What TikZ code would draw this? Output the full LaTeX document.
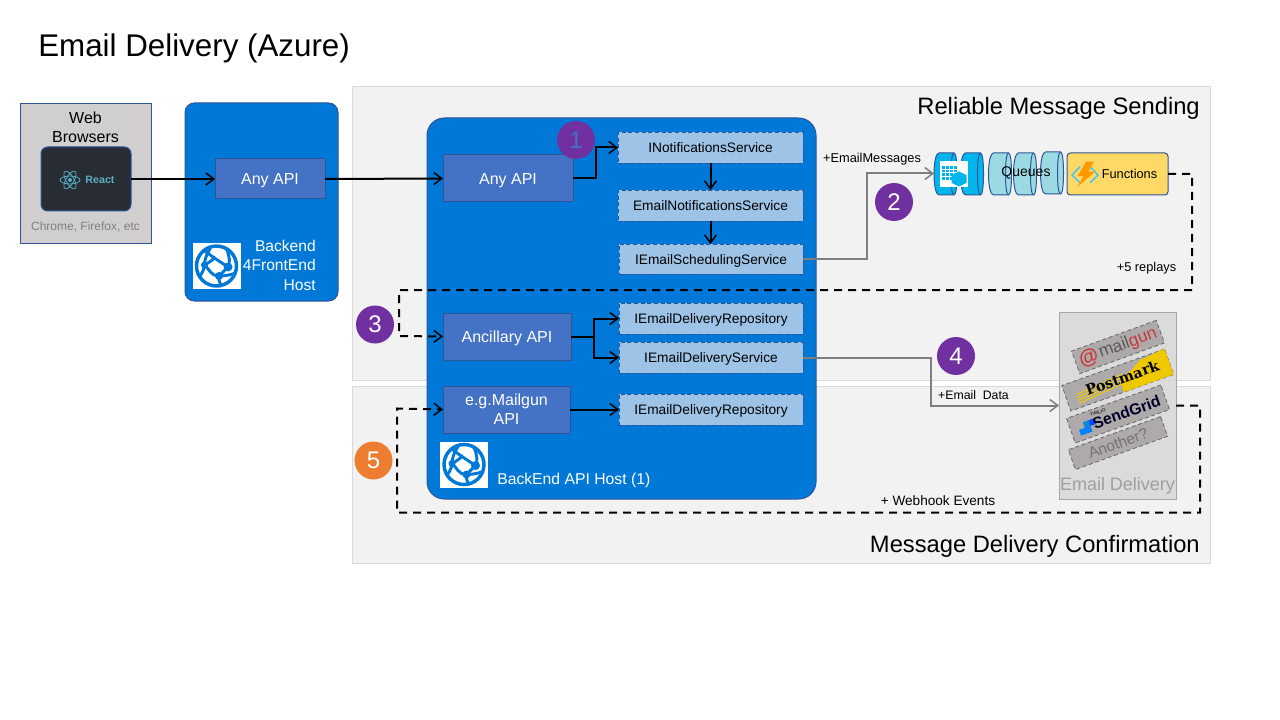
\documentclass[tikz,border=0pt]{standalone}
\usepackage{fontspec}
\setmainfont{Liberation Sans}
\newfontfamily\slabfont{DejaVu Serif}
\usetikzlibrary{arrows.meta}
\definecolor{panelfill}{HTML}{F2F2F2}
\definecolor{panelline}{HTML}{D9D9D9}
\definecolor{hostblue}{HTML}{0078D7}
\definecolor{hostline}{HTML}{2F5597}
\definecolor{apiblue}{HTML}{4472C4}
\definecolor{svcblue}{HTML}{9DC3E6}
\definecolor{purplec}{HTML}{7030A0}
\definecolor{orangec}{HTML}{ED7D31}
\definecolor{qteal}{HTML}{9BDAE3}
\definecolor{qblue}{HTML}{00B4EC}
\definecolor{fnyellow}{HTML}{FFD966}
\definecolor{browsergrey}{HTML}{D0CECE}
\definecolor{reactdark}{HTML}{282C34}
\definecolor{reactteal}{HTML}{5AB0C2}
\definecolor{vendorgrey}{HTML}{AEAAAA}
\definecolor{connectgrey}{HTML}{7F7F7F}
\definecolor{pmyellow}{HTML}{EFC900}
\definecolor{mgred}{HTML}{C9383C}
\tikzset{
 wh/.style 2 args={minimum width=#1*0.75pt,minimum height=#2*0.75pt,inner sep=0pt,outer sep=0pt},
 panel/.style={draw=panelline,fill=panelfill,line width=0.75pt},
 panelhead/.style={anchor=east,inner sep=0pt,font=\fontsize{17.8}{22}\selectfont},
 hostbox/.style={draw=hostline,fill=hostblue,line width=0.75pt},
 apibox/.style={draw=hostline,fill=apiblue,line width=0.75pt,text=white,align=center,font=\fontsize{12}{14.2}\selectfont},
 oneline/.style={text height=8.6pt,text depth=0pt},
 svcbox/.style={draw=hostline,densely dashed,fill=svcblue,line width=0.5pt,font=\fontsize{10.3}{12}\selectfont,text=black,text height=8pt,text depth=0.5pt},
 badge/.style={circle,fill=purplec,minimum size=28.5pt,inner sep=0pt,text=white,font=\fontsize{18}{20}\selectfont},
 edgelabel/.style={anchor=center,inner sep=0pt,font=\fontsize{9.6}{11}\selectfont},
 flow/.style={draw=black,line width=1.5pt,-{Straight Barb[length=6pt,width=9pt,line width=1.1pt]}},
 grayflow/.style={draw=connectgrey,line width=1.5pt,-{Straight Barb[length=6pt,width=9pt,line width=1.1pt]}},
 dashflow/.style={draw=black,line width=1.5pt,dash pattern=on 6pt off 4.5pt,-{Straight Barb[length=6pt,width=9pt,line width=1.1pt]}},
 vendor/.style={draw=black!60,densely dashed,fill=vendorgrey,line width=0.6pt},
 pics/qcyl/.style={code={
   \draw[draw=hostline,fill=#1,line width=0.75pt] (5,0) -- (20,0) .. controls (22,0) and (23,9) .. (23,21) .. controls (23,33) and (22,42) .. (20,42) -- (5,42) .. controls (2,42) and (0,33) .. (0,21) .. controls (0,9) and (2,0) .. (5,0) -- cycle;
   \draw[draw=hostline,line width=0.75pt] (20,0) .. controls (18,0) and (17,9) .. (17,21) .. controls (17,33) and (18,42) .. (20,42);
 }},
 pics/globe/.style={code={
   \fill[white] (-24,-23) rectangle (24,23);
   \draw[hostblue,line width=2.6pt] (0,0) circle [x radius=20,y radius=20];
   \draw[hostblue,line width=2.2pt] (-13,-16) .. controls (-4,-9) and (4,-4) .. (11.5,1);
   \draw[hostblue,line width=2.2pt] (-6,-18) .. controls (-10,-12) and (-12,-6) .. (-12,-1) .. controls (-12,3) and (-15,8) .. (-17,11);
   \draw[hostblue,line width=2.2pt] (-12,-1) .. controls (-8,-3) and (-4,-6) .. (-1,-9);
   \draw[hostblue,line width=2.2pt] (-12,-1) .. controls (-7,3) and (-6,10) .. (2.5,10) .. controls (8,10) and (14,9) .. (19,7);
   \draw[hostblue,line width=2.2pt] (11.5,1) -- (2.5,10) .. controls (2,14) and (3,17) .. (5,20);
   \draw[hostblue,line width=2.2pt] (11.5,1) .. controls (14,-3) and (13,-10) .. (10,-17);
   \fill[hostblue] (11.5,1) circle [x radius=4.5,y radius=4.5];
   \fill[hostblue] (2.5,10) circle [x radius=4,y radius=4];
   \fill[hostblue] (-12,-1) circle [x radius=3.5,y radius=3.5];
 }},
}
\begin{document}
\begin{tikzpicture}[x=0.75pt,y=-0.75pt]
\useasboundingbox (0,0) rectangle (1280,720);
\fill[white] (0,0) rectangle (1280,720);
% title
\node[anchor=west,inner sep=0pt,font=\fontsize{23.5}{28}\selectfont] (title) at (38,48.5) {Email Delivery (Azure)};
% panels
\node[panel,wh={858}{293}] (reliable) at (781,233.5) {};
\node[panel,wh={858}{177}] (confirm) at (781,474.5) {};
\node[panelhead] (reliablehead) at (1200,108.5) {Reliable Message Sending};
\node[panelhead] (confirmhead) at (1200,546) {Message Delivery Confirmation};
% browsers
\node[draw=hostline,fill=browsergrey,line width=0.6pt,wh={131}{140}] (browsers) at (85.5,173) {};
\node[align=center,inner sep=0pt,font=\fontsize{12}{14.2}\selectfont] (weblabel) at (85.5,127) {Web\\Browsers};
\node[draw=hostline,fill=reactdark,rounded corners=5pt,line width=0.75pt,wh={90}{64}] (react) at (86,179) {};
\foreach \a in {0,60,120}{\draw[reactteal,line width=0.6pt,rotate around={\a:(70,180)}] (70,180) ellipse [x radius=10,y radius=4];}
\fill[reactteal] (70,180) circle [x radius=2,y radius=2];
\node[inner sep=0pt,text=reactteal,font=\fontsize{8}{10}\selectfont\bfseries] (reacttext) at (100,180) {React};
\node[inner sep=0pt,text=gray,font=\fontsize{9}{11}\selectfont] (browserlist) at (85.5,227) {Chrome, Firefox, etc};
% hosts
\node[hostbox,rounded corners=7pt,wh={153}{198}] (fronthost) at (261.5,202) {};
\node[hostbox,rounded corners=13pt,wh={389}{381}] (backhost) at (621.5,308.5) {};
\node[apibox,oneline,wh={110}{40}] (any1) at (270,179) {Any API};
\pic at (216.5,266) {globe};
\node[anchor=east,align=right,inner sep=0pt,text=white,font=\fontsize{11.7}{14.6}\selectfont] (frontlabel) at (316,265) {Backend\\4FrontEnd\\Host};
\node[apibox,oneline,wh={130}{47}] (any2) at (508,178.5) {Any API};
\node[apibox,oneline,wh={128}{47}] (anc) at (507,336.5) {Ancillary API};
\node[apibox,wh={127}{47}] (mgapi) at (506.5,409.5) {e.g.Mailgun\\API};
\pic at (464,464.5) {globe};
\node[anchor=west,inner sep=0pt,text=white,font=\fontsize{11.8}{14}\selectfont] (backlabel) at (497,480.5) {BackEnd API Host (1)};
% services
\node[svcbox,wh={185}{31}] (inot) at (710.5,147.5) {INotificationsService};
\node[svcbox,wh={185}{31}] (enot) at (710.5,205.5) {EmailNotificationsService};
\node[svcbox,wh={184}{30}] (sched) at (711,259) {IEmailSchedulingService};
\node[svcbox,wh={184}{31}] (repo) at (711,318.5) {IEmailDeliveryRepository};
\node[svcbox,wh={184}{31}] (deliv) at (711,357.5) {IEmailDeliveryService};
\node[svcbox,wh={184}{31}] (repo2) at (711,409.5) {IEmailDeliveryRepository};
% badges
\node[badge,text=apiblue] (b1) at (576,140) {1};
\node[badge] (b2) at (894,202) {2};
\node[badge] (b3) at (375,324.5) {3};
\node[badge] (b4) at (956,356) {4};
\node[badge,fill=orangec] (b5) at (373.5,460.5) {5};
% queue
\coordinate (qin) at (934,173.5);
\pic at (934,153) {qcyl=qblue};
\pic at (960.5,153) {qcyl=qblue};
\fill[white] (940,161.5) rectangle (968,187);
\foreach \i in {0,1,2,3}{\foreach \j in {0,1,2,3}{\fill[qblue] (941.5+\i*4,166+\j*3.6) rectangle ++(3.2,2.8);}}
\fill[qblue] (959,171.5) -- (966.5,175.2) -- (966.5,182.8) -- (959,186.5) -- (951.5,182.8) -- (951.5,175.2) -- cycle;
\pic at (988.5,153) {qcyl=qteal};
\pic at (1013.5,153) {qcyl=qteal};
\pic at (1040.5,152) {qcyl=qteal};
\node[inner sep=0pt,font=\fontsize{10.5}{12}\selectfont] (queues) at (1026,172.5) {Queues};
\node[draw=hostline,fill=fnyellow,rounded corners=2.5pt,line width=0.75pt,wh={101}{42},font=\fontsize{9.6}{12}\selectfont] (fn) at (1117.5,174) {\hspace*{18pt}Functions};
\draw[cyan!70!white,line width=1.2pt] (1080,166.7) -- (1072,175) -- (1080,182.7);
\draw[cyan!70!white,line width=1.2pt] (1090,166.7) -- (1098,175) -- (1090,182.7);
\fill[orange!80!yellow] (1086,161.7) -- (1094,161.7) -- (1088.3,171.7) -- (1095,171.7) -- (1077.7,186.7) -- (1083.3,176) -- (1077.7,176) -- cycle;
% email delivery
\node[draw=gray!70!white,fill=panelline,fill opacity=0.9,line width=0.75pt,wh={117}{187}] (edbox) at (1117.5,405.5) {};
\begin{scope}[shift={(1118,347)},rotate=20]
 \node[vendor,rotate=20,wh={90}{24}] (mg) at (0,0) {};
 \node[inner sep=0pt,rotate=20,text=mgred,font=\fontsize{15}{16}\selectfont\bfseries] (mgat) at (-31,0) {@};
 \node[anchor=west,inner sep=0pt,rotate=20,font=\fontsize{13}{16}\selectfont] (mgtxt) at (-20,0) {\textcolor{black!65}{mail}\textcolor{mgred}{gun}};
\end{scope}
\begin{scope}[shift={(1117.7,380)},rotate=19.6]
 \node[vendor,rotate=19.6,wh={109}{27}] (pm) at (0,0) {};
 \fill[pmyellow] (3,-1) -- (17,-5) -- (27,-11) -- (50,-13.5) -- (54.5,-13.5) -- (54.5,13.5) -- (1.7,13.5) -- cycle;
 \foreach \yy in {-3,0,3,6}{\draw[pmyellow,line width=0.8pt] (-44,\yy+3) -- (6,\yy-1);}
 \node[inner sep=0pt,rotate=19.6,font=\fontsize{10.8}{14}\selectfont\slabfont\bfseries] (pmtxt) at (5,-0.5) {Postmark};
\end{scope}
\begin{scope}[shift={(1118,414)},rotate=19.5]
 \node[vendor,rotate=19.5,wh={100}{26}] (sg) at (0,0) {};
 \fill[blue!50!cyan] (-42,2) rectangle ++(6,6);
 \fill[cyan!70!blue] (-36,-4) rectangle ++(6,6);
 \fill[blue!70!cyan] (-30,-4) rectangle ++(6,6);
 \fill[blue!50!cyan] (-36,2) rectangle ++(6,6);
 \node[anchor=west,inner sep=0pt,rotate=19.5,text=black!85!blue,font=\fontsize{11.8}{15}\selectfont\bfseries] (sgtxt) at (-27,1) {SendGrid};
 \node[anchor=west,inner sep=0pt,rotate=19.5,text=black!80,font=\fontsize{3.5}{4}\selectfont\bfseries] (twilio) at (-27,-8) {TWILIO};
\end{scope}
\node[vendor,rotate=19.8,wh={98}{21},text=gray!90!black,font=\fontsize{11.5}{13}\selectfont] (another) at (1118,443) {Another?};
\node[inner sep=0pt,text=gray!75!white,font=\fontsize{13.5}{16}\selectfont] (edlabel) at (1117.5,485.5) {Email Delivery};
% connectors
\draw[flow] (react.east) -- (any1.west);
\draw[flow] (any1.east) -- (any2.west);
\draw[flow] (any2.east) -- ++(23,0) |- (inot.west);
\draw[flow] (inot.south) -- (enot.north);
\draw[flow] (enot.south) -- (sched.north -| enot.south);
\draw[flow] (anc.east) -- ++(23,0) |- (repo.west);
\draw[flow] (anc.east) -- ++(23,0) |- (deliv.west);
\draw[flow] (mgapi.east) -- (repo2.west);
\draw[grayflow] (sched.east) -- ++(64,0) |- (qin);
\draw[grayflow] (deliv.east) -- ++(128,0) |- (edbox.west);
\draw[dashflow] (fn.east) -| ++(24,116) -| ++(-793,46) -- (anc.west);
\draw[dashflow] (edbox.east) -| ++(24,107) -| ++(-803,-104) -- (mgapi.west);
% edge labels
\node[edgelabel] (lem) at (872,159) {+EmailMessages};
\node[edgelabel] (lrep) at (1146.5,268) {+5 replays};
\node[edgelabel,font=\fontsize{9.2}{11}\selectfont] (lmail) at (973.5,395) {+Email\ \ Data};
\node[edgelabel,font=\fontsize{10.2}{12}\selectfont] (lweb) at (938,501) {+ Webhook Events};
\end{tikzpicture}
\end{document}
